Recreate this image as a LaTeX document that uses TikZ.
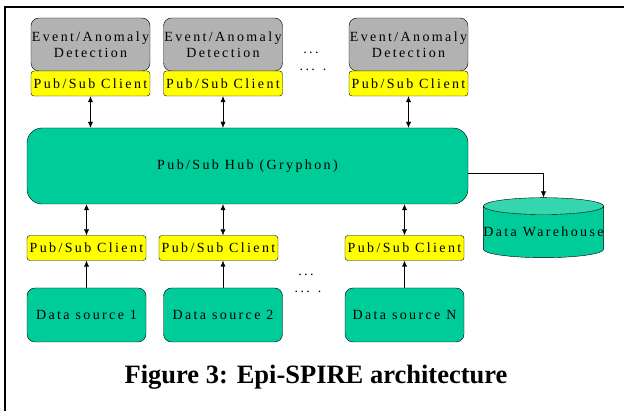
\documentclass[tikz,border=0pt]{standalone}
\usepackage{fontspec}
\usepackage{xcolor}
\usetikzlibrary{arrows.meta,shapes.geometric}
\setmainfont{Liberation Serif}
\newfontfamily\boxfont[LetterSpace=17]{Liberation Serif}
\definecolor{hubgreen}{RGB}{0,204,153}
\definecolor{endgreen}{RGB}{51,214,173}
\definecolor{detgray}{RGB}{178,178,178}
\definecolor{cliyellow}{RGB}{255,255,0}

\begin{document}
\begin{tikzpicture}[x=1pt, y=-1pt, >={Latex[length=6pt,width=5pt]},
        font=\boxfont\fontsize{14pt}{16pt}\selectfont,
        detbox/.style={draw, fill=detgray, rounded corners=8pt, align=center,
            inner sep=0pt, minimum width=119pt, minimum height=53pt},
        clibox/.style={draw, fill=cliyellow, rounded corners=3pt,
            inner sep=0pt, minimum width=119pt, minimum height=25pt},
        srcbox/.style={draw, fill=hubgreen, rounded corners=8pt,
            inner sep=0pt, minimum width=119pt, minimum height=54pt},
        dots/.style={inner sep=0pt}]
    \useasboundingbox (0,0) rectangle (624,411);
    \draw[line width=2pt] (5,411) -- (5,7) -- (624,7);

    % detection side
    \node[detbox] (det1) at (90.5,44.5) {Event/Anomaly\\Detection};
    \node[detbox] (det2) at (223,44.5) {Event/Anomaly\\Detection};
    \node[detbox] (det3) at (408.5,44.5) {Event/Anomaly\\Detection};
    \node[clibox] (cli1) at (90.5,83.5) {Pub/Sub Client};
    \node[clibox] (cli2) at (223,83.5) {Pub/Sub Client};
    \node[clibox] (cli3) at (408.5,83.5) {Pub/Sub Client};
    \node[dots] (dotsa) at (311,53) {...};
    \node[dots] (dotsb) at (313,70) {... .};

    % hub
    \node[draw, fill=hubgreen, rounded corners=15pt, minimum width=441pt,
        minimum height=76pt] (hub) at (247.5,166) {Pub/Sub Hub (Gryphon)};

    % source side
    \node[clibox] (bcli1) at (86.5,248) {Pub/Sub Client};
    \node[clibox] (bcli2) at (218.5,248) {Pub/Sub Client};
    \node[clibox] (bcli3) at (404.5,248) {Pub/Sub Client};
    \node[srcbox] (src1) at (86.5,315) {Data source 1};
    \node[srcbox] (src2) at (223,315) {Data source 2};
    \node[srcbox] (srcN) at (404.5,315) {Data source N};
    \node[dots] (dotsc) at (306,275) {...};
    \node[dots] (dotsd) at (308,292) {... .};

    % warehouse
    \node[cylinder, shape border rotate=90, aspect=0.14, draw, inner sep=0pt,
        minimum width=119pt, minimum height=60pt, cylinder uses custom fill,
        cylinder body fill=hubgreen, cylinder end fill=endgreen]
        (wh) at (543.5,232) {Data Warehouse};

    \draw[<->] (cli1.south) -- (cli1.south |- hub.north);
    \draw[<->] (cli2.south) -- (cli2.south |- hub.north);
    \draw[<->] (cli3.south) -- (cli3.south |- hub.north);
    \draw[<->] (hub.south -| bcli1.north) -- (bcli1.north);
    \draw[<->] (hub.south -| src2.north) -- (src2.north |- bcli2.north);
    \draw[<->] (hub.south -| bcli3.north) -- (bcli3.north);
    \draw[->] (src1.north) -- (src1.north |- bcli1.south);
    \draw[->] (src2.north) -- (src2.north |- bcli2.south);
    \draw[->] (srcN.north) -- (bcli3.south);
    \draw[->] ([yshift=-7pt]hub.east) -| (wh.north);

    \node[anchor=base, font=\fontsize{26.5pt}{28pt}\selectfont\bfseries] (cap)
        at (316,384) {Figure 3: Epi-SPIRE architecture};
\end{tikzpicture}
\end{document}
